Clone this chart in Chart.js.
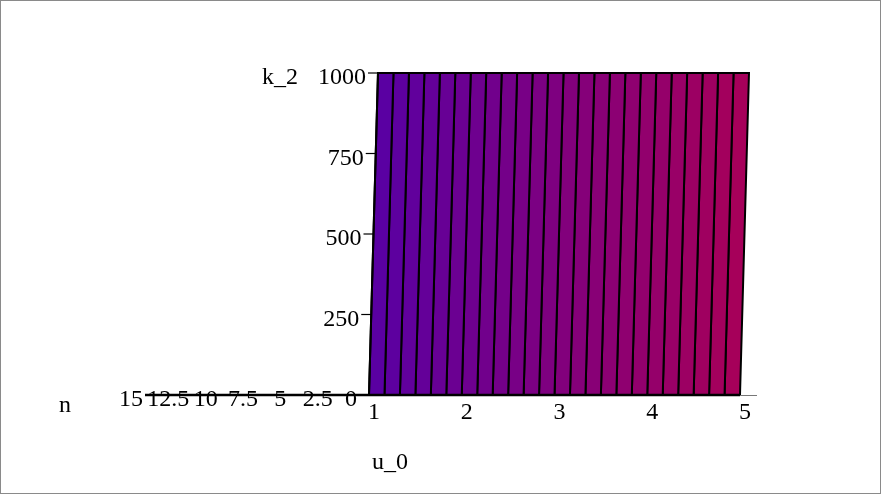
<!DOCTYPE html>
<html>
<head>
<meta charset="utf-8">
<script src="https://cdn.jsdelivr.net/npm/chart.js@4/dist/chart.umd.min.js"></script>
<style>
  html, body { margin: 0; padding: 0; background: #fff; }
  #wrap { width: 881px; height: 494px; }
</style>
</head>
<body>
<div id="wrap"><canvas id="c" width="881" height="494"></canvas></div>
<script>
// ---- data ----
const uGrid = [1, 1.1667, 1.3333, 1.5, 1.6667, 1.8333, 2, 2.1667, 2.3333, 2.5, 2.6667, 2.8333,
               3, 3.1667, 3.3333, 3.5, 3.6667, 3.8333, 4, 4.1667, 4.3333, 4.5, 4.6667, 4.8333, 5];
const kRange = [0, 1000];
const nLevel = 0;
const uTicks = [1, 2, 3, 4, 5];
const kTicks = [0, 250, 500, 750, 1000];
const nTicks = [0, 2.5, 5, 7.5, 10, 12.5, 15];
const axisTitles = { u: 'u_0', k: 'k_2', n: 'n' };

// ---- view (projection) settings ----
const SKEW = 0.097;   // u-offset of the top edge per full k range
const NF = 0.161;     // u-offset per unit of n (n axis points left)
const kMax = kRange[1];
function projU(u, k, n) { return u + SKEW * (k / kMax) - NF * n; }

const colA = [90, 0, 162], colB = [166, 0, 90];
function stripeColor(t) {
  const c = colA.map((a, i) => Math.round(a + (colB[i] - a) * t));
  return `rgb(${c[0]},${c[1]},${c[2]})`;
}

const datasets = [];
for (let i = 0; i < uGrid.length - 1; i++) {
  const u0 = uGrid[i], u1 = uGrid[i + 1];
  const k0 = kRange[0], k1 = kRange[1];
  datasets.push({
    type: 'line',
    data: [
      { x: projU(u0, k0, nLevel), y: k0 },
      { x: projU(u1, k0, nLevel), y: k0 },
      { x: projU(u1, k1, nLevel), y: k1 },
      { x: projU(u0, k1, nLevel), y: k1 },
      { x: projU(u0, k0, nLevel), y: k0 }
    ],
    backgroundColor: stripeColor(i / (uGrid.length - 2)),
    borderColor: '#000',
    borderWidth: 2,
    fill: 'shape',
    pointRadius: 0,
    tension: 0
  });
}

const FONT = '24px "Liberation Serif", "DejaVu Serif", serif';

const axesPlugin = {
  id: 'axes3d',
  afterDatasetsDraw(chart) {
    const ctx = chart.ctx;
    const xs = chart.scales.x, ys = chart.scales.y;
    const P = (u, k, n) => ({ x: xs.getPixelForValue(projU(u, k, n)), y: ys.getPixelForValue(k) });
    const uMin = uTicks[0], uMax = uTicks[uTicks.length - 1];
    const nMax = nTicks[nTicks.length - 1];
    ctx.save();
    // outer frame
    ctx.strokeStyle = '#8a8a8a';
    ctx.lineWidth = 1;
    ctx.strokeRect(0.5, 0.5, chart.width - 1, chart.height - 1);

    // u axis
    const o = P(uMin, 0, 0), e = P(uMax, 0, 0);
    ctx.strokeStyle = '#000';
    ctx.lineWidth = 2.5;
    ctx.beginPath(); ctx.moveTo(o.x, o.y); ctx.lineTo(e.x, e.y); ctx.stroke();
    ctx.strokeStyle = '#777';
    ctx.lineWidth = 1;
    ctx.beginPath(); ctx.moveTo(e.x, e.y + 0.5); ctx.lineTo(e.x + 17, e.y + 0.5); ctx.stroke();
    // n axis
    const ne = P(uMin, 0, nMax);
    ctx.strokeStyle = '#000';
    ctx.lineWidth = 2.5;
    ctx.beginPath(); ctx.moveTo(o.x, o.y); ctx.lineTo(ne.x, ne.y); ctx.stroke();
    // k axis line + ticks
    const kt = P(uMin, kMax, 0);
    ctx.lineWidth = 2;
    ctx.beginPath(); ctx.moveTo(o.x, o.y); ctx.lineTo(kt.x, kt.y); ctx.stroke();
    ctx.lineWidth = 1.2;
    ctx.font = FONT;
    ctx.fillStyle = '#000';
    ctx.textBaseline = 'middle';
    for (const k of kTicks) {
      const p = P(uMin, k, 0);
      ctx.beginPath(); ctx.moveTo(p.x - 10, p.y); ctx.lineTo(p.x, p.y); ctx.stroke();
      ctx.textAlign = 'right';
      ctx.fillText(String(k), p.x - 12, p.y + 5);
    }
    // u tick labels
    ctx.textAlign = 'center';
    for (const u of uTicks) {
      const p = P(u, 0, 0);
      ctx.fillText(String(u), p.x + 5, p.y + 18);
    }
    // n tick labels
    for (const n of nTicks) {
      if (n === 0 && kTicks.includes(0)) continue; // shared origin label
      const p = P(uMin, 0, n);
      ctx.fillText(String(n), p.x - 14, p.y + 5);
    }
    // axis titles
    ctx.textAlign = 'right';
    ctx.fillText(axisTitles.k, kt.x - 80, kt.y + 5);
    ctx.textAlign = 'center';
    ctx.fillText(axisTitles.n, ne.x - 80, ne.y + 11);
    ctx.textAlign = 'left';
    ctx.fillText(axisTitles.u, o.x + 3, o.y + 68);
    ctx.restore();
  }
};

new Chart(document.getElementById('c'), {
  type: 'line',
  data: { datasets },
  options: {
    responsive: false,
    animation: false,
    devicePixelRatio: 1,
    layout: { padding: 0 },
    plugins: { legend: { display: false }, tooltip: { enabled: false }, title: { display: false } },
    scales: {
      x: { type: 'linear', min: -2.9784, max: 6.5203, display: false },
      y: { type: 'linear', min: -307.45, max: 1226.71, display: false }
    }
  },
  plugins: [axesPlugin]
});
</script>
</body>
</html>
